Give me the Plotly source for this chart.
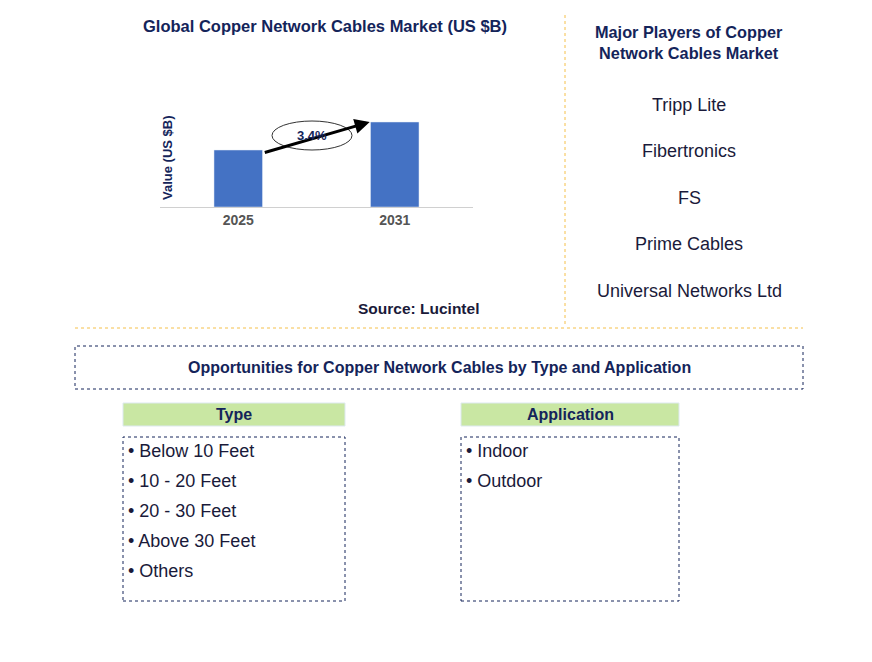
import plotly.graph_objects as go

W, H = 872, 662
years = ["2025", "2031"]
values = [5.7, 8.5]
cagr = "3.4%"
players = ["Tripp Lite", "Fibertronics", "FS", "Prime Cables", "Universal Networks Ltd"]
types = ["Below 10 Feet", "10 - 20 Feet", "20 - 30 Feet", "Above 30 Feet", "Others"]
apps = ["Indoor", "Outdoor"]

NAVY = "#14245a"
FONT = "Liberation Sans, Arial, sans-serif"
OFF = 8

def px(x): return (x - OFF) / W
def py(y): return 1 - (y - OFF) / H

fig = go.Figure(go.Bar(x=years, y=values, marker_color="#4472c4", width=0.31))
fig.update_layout(
    width=W, height=H, margin=dict(l=0, r=0, t=0, b=0),
    paper_bgcolor="white", plot_bgcolor="white", showlegend=False,
    font=dict(family=FONT),
    xaxis=dict(domain=[px(160), px(473)], range=[-0.5, 1.5], showline=True,
               linecolor="#d0d0d0", ticks="", tickfont=dict(size=14, color="#555555", family=FONT),
               showgrid=False),
    yaxis=dict(domain=[py(207), py(80)], range=[0, 12.7], showticklabels=False,
               showgrid=False, zeroline=False, showline=False),
)
fig.update_xaxes(tickvals=years, ticktext=[f"<b>{y}</b>" for y in years])

shapes, ann = [], []
def text(x, y, s, size, color=NAVY, bold=False, xanchor="center", **kw):
    ann.append(dict(x=px(x), y=py(y), xref="paper", yref="paper", text=f"<b>{s}</b>" if bold else s,
                    showarrow=False, xanchor=xanchor, yanchor="middle",
                    font=dict(size=size, color=color, family=FONT), **kw))

def rect(x0, y0, x1, y1, line=None, fill=None):
    shapes.append(dict(type="rect", xref="paper", yref="paper", x0=px(x0), x1=px(x1), y0=py(y1), y1=py(y0),
                       line=line or dict(width=0), fillcolor=fill or "rgba(0,0,0,0)"))

text(325, 26, "Global Copper Network Cables Market (US $B)", 16.5, bold=True)
text(167, 158, "Value (US $B)", 13, bold=True, textangle=-90)
text(418, 308, "Source: Lucintel", 15.5, color="#1a1a3a", bold=True)

# arrow
ann.append(dict(x=0.84, y=values[1], xref="x", yref="y", ax=0.16, ay=values[0] - 0.3, axref="x", ayref="y",
                showarrow=True, arrowhead=2, arrowsize=1, arrowwidth=3, arrowcolor="black", text=""))
shapes.append(dict(type="circle", xref="paper", yref="paper", x0=px(272), x1=px(352), y0=py(150), y1=py(121),
                   line=dict(color="#333333", width=1), fillcolor="white"))
text(312, 136, cagr, 13, bold=True)

text(689, 42, "Major Players of Copper<br>Network Cables Market", 16.3, bold=True)
for i, p in enumerate(players):
    text(689, 105 + i * 46.5, p, 18, color="#1a1a3a")

orange = dict(color="#f5c04a", width=1, dash="dot")
shapes.append(dict(type="line", xref="paper", yref="paper", x0=px(565), x1=px(565), y0=py(15), y1=py(326), line=orange))
shapes.append(dict(type="line", xref="paper", yref="paper", x0=px(75), x1=px(803), y0=py(328), y1=py(328), line=orange))

dot = dict(color=NAVY, width=1, dash="dot")
rect(75, 346, 803, 389, line=dot)
text(439, 367, "Opportunities for Copper Network Cables by Type and Application", 16, bold=True)

green = "#c9e7a3"
for (x0, x1, title, items) in [(123, 345, "Type", types), (461, 679, "Application", apps)]:
    rect(x0, 403, x1, 426, line=dict(color="#dde9f0", width=1), fill=green)
    text((x0 + x1) / 2, 414.5, title, 16, bold=True)
    rect(x0, 437, x1, 601, line=dot)
    for i, it in enumerate(items):
        text(x0 + 3, 451 + i * 30, "• " + it, 18, color="#1a1a3a", xanchor="left")

fig.update_layout(shapes=shapes, annotations=ann)
fig.write_html("out.html")
